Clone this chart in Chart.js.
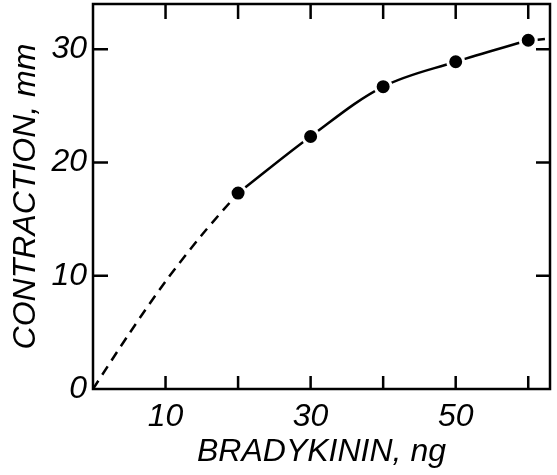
<!DOCTYPE html>
<html>
<head>
<meta charset="utf-8">
<script src="https://cdn.jsdelivr.net/npm/chart.js@4/dist/chart.umd.min.js"></script>
<style>
  html, body { margin: 0; padding: 0; background: #fff; }
  #wrap { width: 557px; height: 475px; }
</style>
</head>
<body>
<div id="wrap"><canvas id="chart" width="557" height="475"></canvas></div>
<script>
// measured points (bradykinin dose in ng, contraction in mm)
const dose = [20, 30, 40, 50, 60];
const contraction = [17.3, 22.3, 26.7, 28.9, 30.8];
// dashed extrapolation towards the origin
const extrapDose = [0, 5, 10, 15, 20];
const extrapContraction = [0, 4.9, 9.5, 13.6, 17.3];
// short dash past the last point
const tailDose = [61.3, 62.3];
const tailContraction = [30.85, 30.9];

const xTicks = [10, 20, 30, 40, 50, 60];
const xLabelled = [10, 30, 50];
const yTicks = [0, 10, 20, 30];

function pairs(xs, ys) {
    return xs.map(function(x, i) { return { x: x, y: ys[i] }; });
}

const ink = '#000';
const labelFont = { family: "'Liberation Sans', 'DejaVu Sans', sans-serif", size: 32, style: 'italic' };

// frame + inward ticks, drawn from the scales
const framePlugin = {
    id: 'frame',
    afterDraw(chart) {
        const ctx = chart.ctx;
        const a = chart.chartArea;
        const xs = chart.scales.x, ys = chart.scales.y;
        ctx.save();
        ctx.strokeStyle = ink;
        ctx.lineWidth = 2.5;
        ctx.strokeRect(a.left, a.top, a.right - a.left, a.bottom - a.top);
        ctx.beginPath();
        xTicks.forEach(function(v) {
            const px = xs.getPixelForValue(v);
            ctx.moveTo(px, a.bottom); ctx.lineTo(px, a.bottom - 13);
            ctx.moveTo(px, a.top); ctx.lineTo(px, a.top + 15);
        });
        yTicks.slice(1).forEach(function(v) {
            const py = ys.getPixelForValue(v);
            ctx.moveTo(a.left, py); ctx.lineTo(a.left + 15, py);
            ctx.moveTo(a.right, py); ctx.lineTo(a.right - 14, py);
        });
        ctx.stroke();
        ctx.restore();
    }
};

function noOverflow(scale) {
    scale.paddingTop = 0;
    scale.paddingBottom = 0;
    scale.paddingLeft = 0;
    scale.paddingRight = 0;
}

new Chart(document.getElementById('chart').getContext('2d'), {
    type: 'scatter',
    data: {
        datasets: [
            {
                data: pairs(extrapDose, extrapContraction),
                showLine: true,
                borderColor: ink,
                borderWidth: 2.5,
                borderDash: [10, 7],
                tension: 0.3,
                pointRadius: 0
            },
            {
                data: pairs(tailDose, tailContraction),
                showLine: true,
                borderColor: ink,
                borderWidth: 2.5,
                pointRadius: 0
            },
            {
                data: pairs(dose, contraction),
                showLine: true,
                borderColor: ink,
                borderWidth: 2.5,
                tension: 0.35,
                pointRadius: 8,
                pointBackgroundColor: ink,
                pointBorderColor: '#fff',
                pointBorderWidth: 3
            }
        ]
    },
    options: {
        responsive: false,
        animation: false,
        layout: { autoPadding: false, padding: { top: 4, right: 7, left: 0, bottom: 0 } },
        plugins: {
            legend: { display: false },
            tooltip: { enabled: false }
        },
        scales: {
            x: {
                type: 'linear',
                min: 0,
                max: 63,
                grid: { display: false, drawTicks: false },
                border: { display: false },
                afterFit: function(scale) { scale.height = 86; noOverflow(scale); },
                afterBuildTicks: function(scale) {
                    scale.ticks = xLabelled.map(function(v) { return { value: v }; });
                },
                ticks: {
                    color: ink,
                    font: labelFont,
                    padding: 9,
                    maxRotation: 0,
                    autoSkip: false
                },
                title: {
                    display: true,
                    text: 'BRADYKININ, ng',
                    color: ink,
                    font: labelFont,
                    padding: { top: 0, bottom: 4 }
                }
            },
            y: {
                type: 'linear',
                min: 0,
                max: 34,
                grid: { display: false, drawTicks: false },
                border: { display: false },
                afterFit: function(scale) { scale.width = 93; noOverflow(scale); },
                afterBuildTicks: function(scale) {
                    scale.ticks = yTicks.map(function(v) { return { value: v }; });
                },
                ticks: {
                    color: ink,
                    font: labelFont,
                    padding: 6,
                    autoSkip: false
                },
                title: {
                    display: true,
                    text: 'CONTRACTION, mm',
                    color: ink,
                    font: labelFont,
                    padding: { top: 7, bottom: 0 }
                }
            }
        }
    },
    plugins: [framePlugin]
});
</script>
</body>
</html>
